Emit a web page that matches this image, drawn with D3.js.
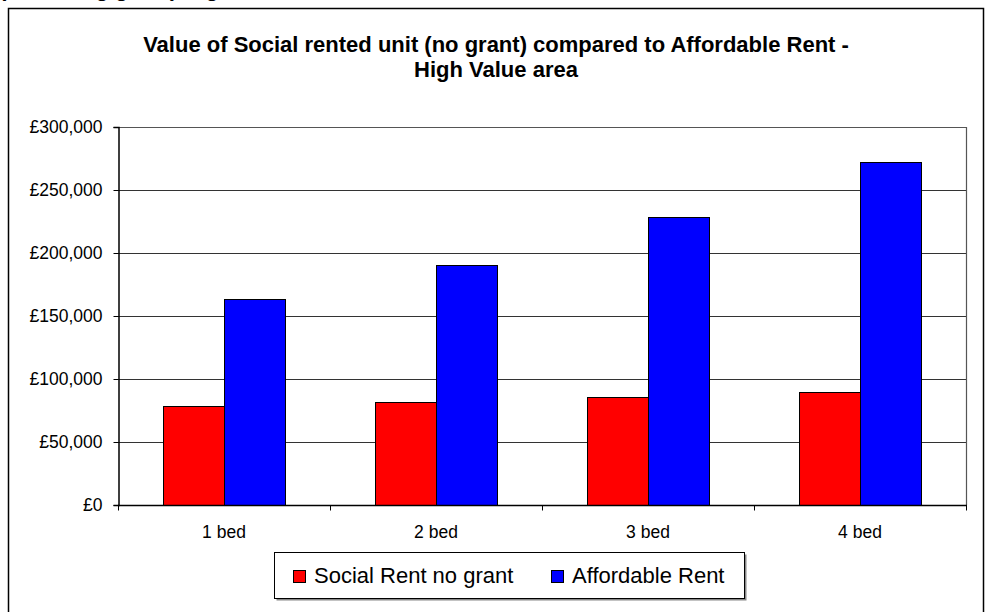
<!DOCTYPE html>
<html>
<head>
<meta charset="utf-8">
<script src="https://cdn.jsdelivr.net/npm/d3@7"></script>
<style>
  html, body { margin: 0; padding: 0; background: #fff; }
  svg { display: block; font-family: "Liberation Sans", Arial, sans-serif; }
</style>
</head>
<body>
<svg id="chart" width="986" height="612"></svg>
<script>
// Chart data
const categories = ["1 bed", "2 bed", "3 bed", "4 bed"];
const seriesNames = ["Social Rent no grant", "Affordable Rent"];
const seriesColors = ["#FF0000", "#0000FF"];
const socialRentNoGrant = [78500, 81500, 86000, 90000];
const affordableRent = [163500, 190500, 228500, 272500];
const yTickValues = [0, 50000, 100000, 150000, 200000, 250000, 300000];
const titleLines = ["Value of Social rented unit (no grant) compared to Affordable Rent -", "High Value area"];
const headingAbove = "(excluding grant) High Value";

const seriesValues = [socialRentNoGrant, affordableRent];
const rows = categories.map((c, i) => ({
  category: c,
  values: seriesNames.map((s, j) => ({ series: s, value: seriesValues[j][i], color: seriesColors[j] }))
}));

const svg = d3.select("#chart");

// Heading of the page section above the chart, running off the top edge
svg.append("text")
  .attr("x", -1).attr("y", -4)
  .attr("font-size", 22).attr("font-weight", "bold")
  .text(headingAbove);

// Outer chart frame
svg.append("rect")
  .attr("x", 8.5).attr("y", 8.5)
  .attr("width", 975).attr("height", 640)
  .attr("fill", "#fff").attr("stroke", "#000").attr("stroke-width", 1.5);

// Title
const title = svg.append("text")
  .attr("text-anchor", "middle")
  .attr("font-size", 22).attr("font-weight", "bold");
titleLines.forEach((t, i) => {
  title.append("tspan").attr("x", 496).attr("y", 52 + i * 25).text(t);
});

const plot = { left: 118, right: 966, top: 127, bottom: 505 };

const y = d3.scaleLinear().domain([0, 300000]).range([plot.bottom, plot.top]);
const x0 = d3.scaleBand().domain(categories).range([plot.left, plot.right]).padding(0);
const x1 = d3.scaleBand().domain(seriesNames).range([0, x0.bandwidth()])
  .paddingInner(0).paddingOuter(0.738);

// Gridlines
svg.append("g")
  .selectAll("line")
  .data(yTickValues.filter(v => v > 0))
  .join("line")
  .attr("x1", plot.left).attr("x2", plot.right)
  .attr("y1", d => Math.round(y(d)) + 0.5).attr("y2", d => Math.round(y(d)) + 0.5)
  .attr("stroke", "#333").attr("stroke-width", 1);

// Plot area frame (top/right)
svg.append("path")
  .attr("d", `M${plot.left},${plot.top + 0.5}H${plot.right + 0.5}V${plot.bottom}`)
  .attr("fill", "none").attr("stroke", "#555").attr("stroke-width", 1.2);

// Bars
const groups = svg.append("g")
  .selectAll("g")
  .data(rows)
  .join("g")
  .attr("transform", d => `translate(${x0(d.category)},0)`);

groups.selectAll("rect")
  .data(d => d.values)
  .join("rect")
  .attr("x", d => x1(d.series) + 0.5)
  .attr("y", d => Math.round(y(d.value)) + 0.5)
  .attr("width", x1.bandwidth())
  .attr("height", d => Math.round(y(0)) - Math.round(y(d.value)))
  .attr("fill", d => d.color)
  .attr("stroke", "#000").attr("stroke-width", 1);

// Y axis
const yAxis = d3.axisLeft(y)
  .tickValues(yTickValues)
  .tickSize(5).tickPadding(11)
  .tickFormat(d => "£" + d3.format(",")(d));
const gy = svg.append("g")
  .attr("transform", `translate(${plot.left + 0.5},0)`)
  .call(yAxis);
gy.select(".domain").attr("stroke", "#000").attr("stroke-width", 1.5);
gy.selectAll(".tick line").attr("stroke", "#000");
gy.selectAll(".tick text")
  .attr("font-size", 17.5).attr("fill", "#000")
  .attr("font-family", "'Liberation Sans', Arial, sans-serif");

// X axis with tick marks at category boundaries
const xAxisG = svg.append("g").attr("transform", `translate(0,${plot.bottom + 0.5})`);
xAxisG.append("line")
  .attr("x1", plot.left).attr("x2", plot.right + 1)
  .attr("stroke", "#000").attr("stroke-width", 1.5);
const boundaries = categories.map(c => x0(c)).concat([plot.right]);
xAxisG.selectAll("line.tick")
  .data(boundaries)
  .join("line").attr("class", "tick")
  .attr("x1", d => d + 0.5).attr("x2", d => d + 0.5)
  .attr("y1", 0).attr("y2", 5)
  .attr("stroke", "#000");
xAxisG.selectAll("text")
  .data(categories)
  .join("text")
  .attr("x", d => x0(d) + x0.bandwidth() / 2)
  .attr("y", 32)
  .attr("text-anchor", "middle")
  .attr("font-size", 17.5)
  .text(d => d);

// Legend
const legend = { x: 274, y: 552, w: 470, h: 46 };
svg.append("rect")
  .attr("x", legend.x + 2.5).attr("y", legend.y + 2.5)
  .attr("width", legend.w).attr("height", legend.h)
  .attr("fill", "#888");
svg.append("rect")
  .attr("x", legend.x + 0.5).attr("y", legend.y + 0.5)
  .attr("width", legend.w).attr("height", legend.h)
  .attr("fill", "#fff").attr("stroke", "#000").attr("stroke-width", 1);

const legendItemX = [293, 551];
const items = svg.append("g")
  .selectAll("g")
  .data(seriesNames.map((s, i) => ({ name: s, color: seriesColors[i], x: legendItemX[i] })))
  .join("g")
  .attr("transform", d => `translate(${d.x},570)`);
items.append("rect")
  .attr("x", 0.5).attr("y", 0.5)
  .attr("width", 12).attr("height", 12)
  .attr("fill", d => d.color)
  .attr("stroke", "#000").attr("stroke-width", 1);
items.append("text")
  .attr("x", 21).attr("y", 13)
  .attr("font-size", 22)
  .text(d => d.name);
</script>
</body>
</html>
